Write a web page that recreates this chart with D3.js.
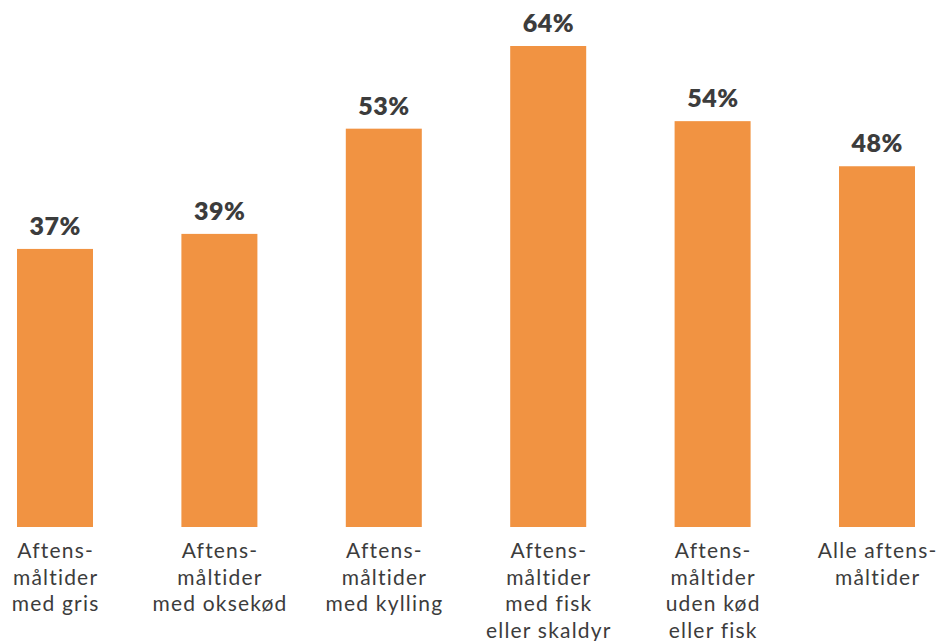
<!DOCTYPE html>
<html>
<head>
<meta charset="utf-8">
<script src="https://cdn.jsdelivr.net/npm/d3@7"></script>
<style>
  html, body { margin: 0; padding: 0; background: #fff; }
  svg { display: block; }
  .cat { font-family: "Lato", "Noto Sans", sans-serif; font-size: 21px; letter-spacing: 1.2px; fill: #3c3c3c; }
  .val { font-family: "Lato", "Noto Sans", sans-serif; font-size: 25px; font-weight: 800; letter-spacing: 0.5px; fill: #3c3c3c; }
</style>
</head>
<body>
<svg id="chart" width="936" height="641"></svg>
<script>
// Andel af aftensmåltider pr. kategori
const categories = ["gris", "okse", "kylling", "fisk", "vegetar", "alle"];
const labelLines = [
  ["Aftens-", "måltider", "med gris"],
  ["Aftens-", "måltider", "med oksekød"],
  ["Aftens-", "måltider", "med kylling"],
  ["Aftens-", "måltider", "med fisk", "eller skaldyr"],
  ["Aftens-", "måltider", "uden kød", "eller fisk"],
  ["Alle aftens-", "måltider"]
];
const values = [37, 39, 53, 64, 54, 48];

const svg = d3.select("#chart");
const baseline = 527;

const x = d3.scaleBand()
  .domain(categories)
  .range([17, 915])
  .paddingInner(0.5377)
  .paddingOuter(0);

const y = d3.scaleLinear()
  .domain([0, 64])
  .range([baseline, 46]);

svg.selectAll("rect.bar")
  .data(values)
  .join("rect")
  .attr("class", "bar")
  .attr("x", (d, i) => x(categories[i]))
  .attr("y", d => y(d))
  .attr("width", x.bandwidth())
  .attr("height", d => baseline - y(d))
  .attr("fill", "#F19342");

svg.selectAll("text.val")
  .data(values)
  .join("text")
  .attr("class", "val")
  .attr("x", (d, i) => x(categories[i]) + x.bandwidth() / 2 + 0.25)
  .attr("y", d => y(d) - 14)
  .attr("text-anchor", "middle")
  .text(d => d + "%");

const cats = svg.selectAll("text.cat")
  .data(labelLines)
  .join("text")
  .attr("class", "cat")
  .attr("text-anchor", "middle")
  .attr("x", (d, i) => x(categories[i]) + x.bandwidth() / 2 + 0.6)
  .attr("y", 558);

cats.selectAll("tspan")
  .data(d => d)
  .join("tspan")
  .attr("x", function() { return this.parentNode.getAttribute("x"); })
  .attr("dy", (d, i) => i === 0 ? 0 : 26.7)
  .text(d => d);
</script>
</body>
</html>
